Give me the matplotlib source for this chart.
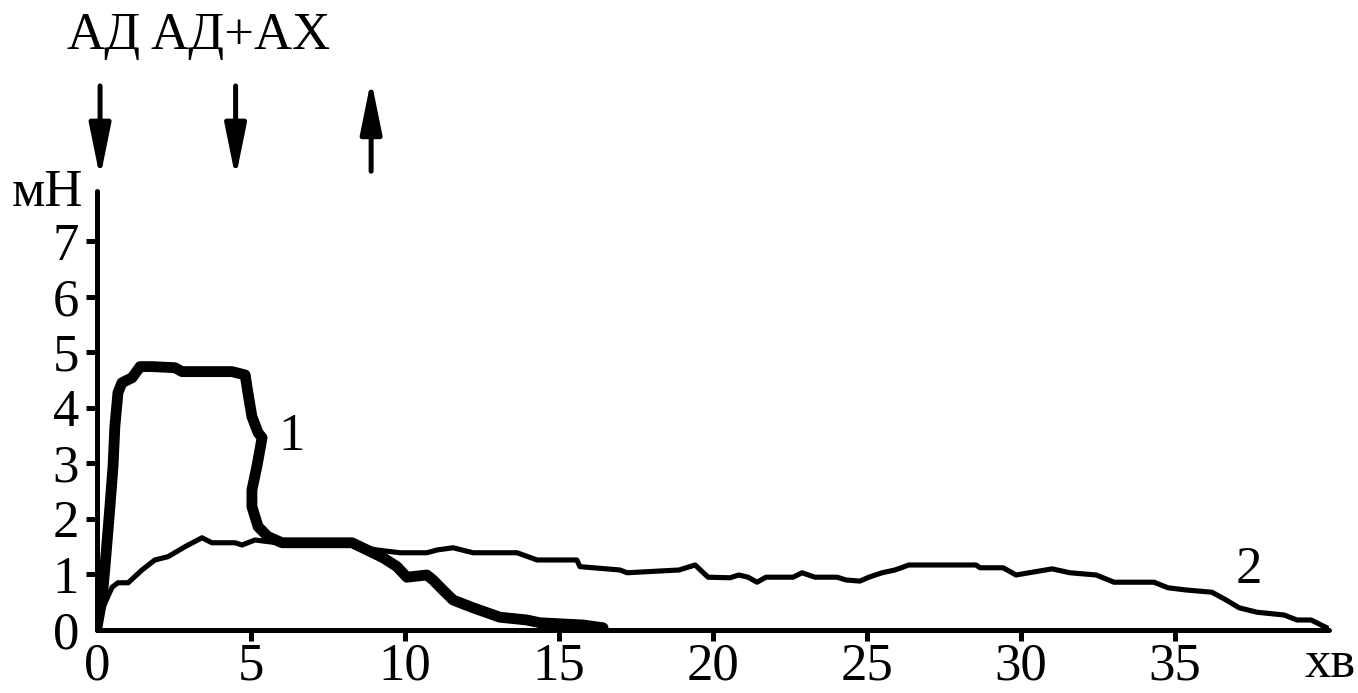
import matplotlib
matplotlib.use("Agg")
import matplotlib.pyplot as plt

plt.rcParams['font.family'] = ['Liberation Serif', 'DejaVu Serif']

# curve 1 (thick): time, min / force, mN
t1 = [0, 0.16, 0.26, 0.42, 0.52, 0.58, 0.68, 0.81, 1.14, 1.40, 1.79, 2.53, 2.76,
      4.38, 4.81, 4.90, 5.03, 5.23, 5.36, 5.19, 5.03, 5.03, 5.23, 5.55, 6.01, 8.28,
      8.77, 9.29, 9.74, 10.06, 10.71, 10.91, 11.23, 11.56, 12.21, 13.08, 13.96,
      14.38, 15.78, 16.43]
f1 = [0.05, 0.54, 1.14, 2.22, 2.94, 3.66, 4.27, 4.45, 4.54, 4.74, 4.74, 4.72, 4.65,
      4.65, 4.59, 4.27, 3.84, 3.55, 3.46, 2.94, 2.52, 2.22, 1.86, 1.68, 1.57, 1.57,
      1.44, 1.30, 1.14, 0.95, 0.99, 0.90, 0.72, 0.54, 0.40, 0.23, 0.18, 0.13, 0.09,
      0.04]

# curve 2 (thin)
t2 = [0, 0.26, 0.49, 0.68, 1.01, 1.46, 1.88, 2.31, 2.86, 3.41, 3.73, 4.48, 4.71,
      5.13, 5.55, 6.59, 8.28, 9.09, 9.84, 10.71, 11.04, 11.56, 12.21, 13.64, 14.29,
      15.58, 15.68, 16.98, 17.21, 18.90, 19.42, 19.84, 20.55, 20.84, 21.14, 21.43,
      21.72, 22.60, 22.89, 23.31, 24.03, 24.32, 24.77, 25.06, 25.49, 25.91, 26.36,
      28.54, 28.67, 29.42, 29.84, 30.26, 31.01, 31.59, 32.44, 33.02, 34.32, 34.77,
      35.36, 36.20, 36.66, 37.08, 37.66, 38.54, 38.96, 39.42, 40.0]
f2 = [0.13, 0.49, 0.77, 0.85, 0.85, 1.08, 1.26, 1.32, 1.50, 1.66, 1.57, 1.57, 1.53,
      1.62, 1.59, 1.53, 1.53, 1.44, 1.39, 1.39, 1.44, 1.48, 1.39, 1.39, 1.26, 1.26,
      1.14, 1.08, 1.03, 1.08, 1.17, 0.95, 0.94, 0.99, 0.95, 0.86, 0.95, 0.95, 1.03,
      0.95, 0.95, 0.90, 0.88, 0.95, 1.03, 1.08, 1.17, 1.17, 1.12, 1.12, 0.99, 1.03,
      1.10, 1.03, 0.99, 0.86, 0.86, 0.76, 0.72, 0.68, 0.54, 0.40, 0.32, 0.27, 0.18,
      0.18, 0.02]

xticks = [0, 5, 10, 15, 20, 25, 30, 35]
yticks = [0, 1, 2, 3, 4, 5, 6, 7]

# drug events (min): down = added, up = washout
event_t = [0.1, 4.5, 8.9]
event_dir = ['down', 'down', 'up']

fig = plt.figure(figsize=(13.58, 6.93), dpi=100)
ax = fig.add_axes([97/1358, 1-630/693, (1329-97)/1358, (630-191)/693])

ax.plot(t2, f2, color='black', lw=3.7, solid_joinstyle='round', solid_capstyle='round', zorder=3)
ax.plot(t1, f1, color='black', lw=7.8, solid_joinstyle='round', solid_capstyle='round', zorder=4)

ax.set_xlim(0, 40)
ax.set_ylim(0, 7.9)
for s in ['top', 'right']:
    ax.spines[s].set_visible(False)
for s in ['left', 'bottom']:
    ax.spines[s].set_linewidth(3.6)
    ax.spines[s].set_capstyle('round')

ax.set_xticks(xticks)
ax.set_yticks(yticks)
ax.set_xticklabels([str(v) for v in xticks])
ax.set_yticklabels([str(v) for v in yticks])
ax.tick_params(axis='both', length=8, width=3.6, labelsize=38, direction='out')
ax.tick_params(axis='x', pad=1)
ax.tick_params(axis='y', pad=5)
ax.xaxis.get_major_ticks()[0].tick1line.set_visible(False)
ax.yaxis.get_major_ticks()[0].tick1line.set_visible(False)

ax.text(6.33, 3.48, '1', fontsize=38, ha='center', va='center')
ax.text(37.4, 1.08, '2', fontsize=38, ha='center', va='center')

fig.text(12/1358, 1-206/693, 'мН', fontsize=38, ha='left', va='baseline')
fig.text(1330/1358, 1-677/693, 'хв', fontsize=38, ha='center', va='baseline')

fig.text(104/1358, 1-36/693, 'АД', fontsize=38, ha='center', va='center')
fig.text(241/1358, 1-36/693, 'АД+АХ', fontsize=38, ha='center', va='center')

# arrows above the plot
for t, d in zip(event_t, event_dir):
    if d == 'down':
        tail, tip = 0.876, 0.743
    else:
        tail, tip = 0.753, 0.885
    ax.annotate('', xy=(t, tip), xytext=(t, tail),
                xycoords=('data', 'figure fraction'), textcoords=('data', 'figure fraction'),
                annotation_clip=False,
                arrowprops=dict(arrowstyle='-|>,head_length=3.2,head_width=0.65',
                                lw=3.6, color='black', shrinkA=0, shrinkB=0,
                                mutation_scale=10))

fig.savefig('out.png', dpi=100)
